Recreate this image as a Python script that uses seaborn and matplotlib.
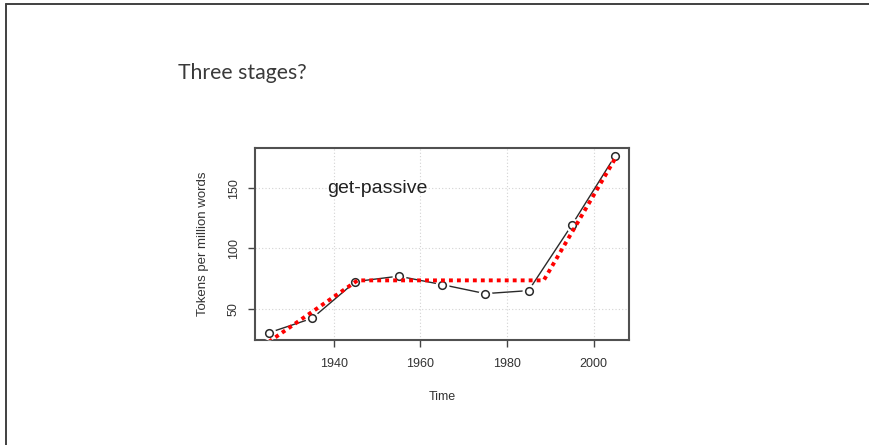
import matplotlib
matplotlib.use("Agg")
import matplotlib.pyplot as plt
import seaborn as sns
from matplotlib.lines import Line2D

# get-passive frequency per decade
years = [1925, 1935, 1945, 1955, 1965, 1975, 1985, 1995, 2005]
tokens = [30, 42, 72.5, 77, 70, 62.5, 65, 119.5, 177]

# three-stage piecewise fit (red dotted line)
fit_years = [1925, 1945.5, 1988.5, 2005.3]
fit_tokens = [22.5, 73.5, 73.5, 176.5]

x_ticks = [1940, 1960, 1980, 2000]
y_ticks = [50, 100, 150]

sns.set_style("white")
plt.rcParams['font.family'] = ['Liberation Sans', 'DejaVu Sans']

fig = plt.figure(figsize=(8.69, 4.45), dpi=100)
ax = fig.add_axes([255/869, 105/445, 374/869, 192/445])

# slide frame (left and top edges only visible)
fig.add_artist(Line2D([5.5/869, 5.5/869], [0, 1 - 3.5/445], transform=fig.transFigure,
                      color='#404040', lw=1.4))
fig.add_artist(Line2D([5.5/869, 1], [1 - 3.5/445, 1 - 3.5/445], transform=fig.transFigure,
                      color='#404040', lw=1.4))

fig.text(178/869, 1 - 73/445, "Three stages?", family=['Lato', 'DejaVu Sans'],
         fontsize=15.3, color='#3a3a3a', ha='left', va='center')

# R style grid
for xv in x_ticks:
    ax.axvline(xv, color='#d3d3d3', lw=0.8, ls=(0, (1, 2)), zorder=0)
for yv in y_ticks:
    ax.axhline(yv, color='#d3d3d3', lw=0.8, ls=(0, (1, 2)), zorder=0)

# type="b": line with gaps around the points
sns.lineplot(x=years, y=tokens, ax=ax, color='#2a2a2a', lw=1.0, zorder=2)
ax.plot(years, tokens, ls='none', marker='o', ms=9, mfc='white', mec='white', zorder=3)
ax.plot(years, tokens, ls='none', marker='o', ms=5.5, mfc='white', mec='#2a2a2a',
        mew=1.1, zorder=4)

sns.lineplot(x=fit_years, y=fit_tokens, ax=ax, color='#ff0000', lw=2.8,
             ls=(0, (1, 1.05)), zorder=5)
ax.lines[-1].set_dash_capstyle('butt')

ax.text(1950, 150, "get-passive", fontsize=14, color='#222222', ha='center', va='center')

ax.set_xlim(1921.8, 2008.2)
ax.set_ylim(24, 183.4)
ax.set_xticks(x_ticks)
ax.set_yticks(y_ticks)
ax.tick_params(axis='both', direction='out', length=5, width=1.0, color='#444444',
               labelsize=9, labelcolor='#333333')
ax.tick_params(axis='x', pad=8, bottom=True)
ax.tick_params(axis='y', pad=6, left=True)
for lab in ax.get_yticklabels():
    lab.set_rotation(90)
    lab.set_va('center')

for sp in ax.spines.values():
    sp.set_visible(True)
    sp.set_color('#505050')
    sp.set_linewidth(1.5)

ax.set_xlabel("Time", fontsize=9, color='#333333')
ax.set_ylabel("Tokens per million words", fontsize=9.5, color='#333333')
ax.xaxis.set_label_coords(0.5, (340 - 397) / 192)
ax.xaxis.label.set_va('center')
ax.yaxis.set_label_coords((203 - 255) / 374, 0.5)
ax.yaxis.label.set_va('center')

fig.savefig("out.png", dpi=100)
